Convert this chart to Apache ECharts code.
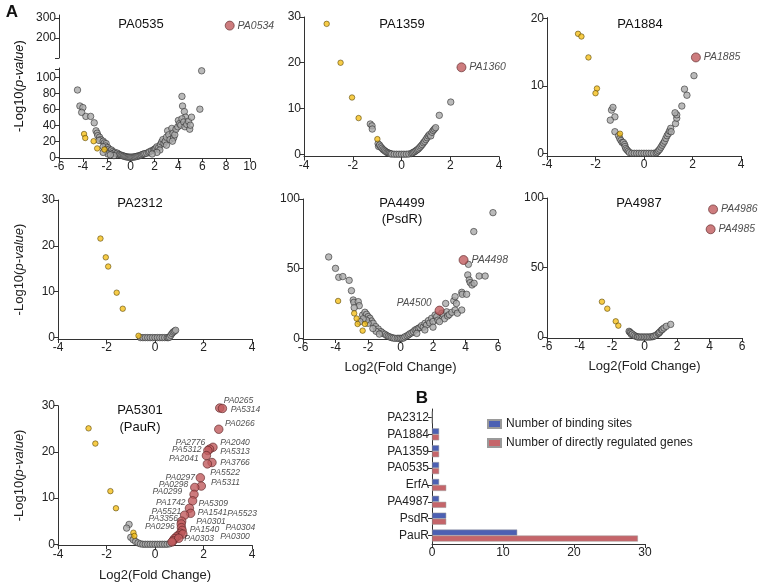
<!DOCTYPE html>
<html>
<head>
<meta charset="utf-8">
<script src="https://cdn.jsdelivr.net/npm/echarts@6/dist/echarts.min.js"></script>
<style>
html, body { margin: 0; padding: 0; background: #fff; }
#chart { width: 760px; height: 584px; }
</style>
</head>
<body>
<div id="chart"></div>
<script>
// ---- data ----
// PA0535
var pa0535Grey = [[-4.45,84],[-4.25,64],[-4.0,62],[-4.1,56],[-3.75,51],[-3.35,51],[-3.05,43],[-2.9,33],[-2.8,30],[-2.75,27],
  [-2.6,25],[-2.5,22],[-2.65,21],[-2.3,20],[-2.2,18],[-2.05,17],[-2.1,14],[-2.3,13],[-1.9,12],[-2.1,9],[-1.8,10],[-1.7,8],
  [-1.6,9],[-1.5,7],[-1.45,5],[-1.3,6],[-1.2,4.5],[-1.1,5],[-1.0,3.5],[-0.9,3],[-0.8,2.5],[-0.7,2],[-0.6,1.5],[-0.5,1],
  [-0.4,0.6],[-0.3,0.3],[-0.2,0.1],[-0.1,0],[0,0],[0.1,0],[0.2,0.1],[0.3,0.3],[0.4,0.6],[0.5,1],[0.6,1.3],[0.7,1.8],
  [0.8,2.2],[0.9,2.8],[1.0,3.5],[1.1,4],[1.2,4.5],[1.35,5],[1.5,6],[1.6,7],[1.75,8],[1.9,9],[2.0,10],[2.1,11],[2.2,13],
  [2.35,12],[2.5,16],[2.6,19],[2.7,22],[2.45,9],[2.8,17],[2.9,20],[3.0,25],[3.1,33],[3.2,28],[3.3,22],[3.45,36],[3.55,30],
  [3.6,24],[3.7,28],[3.8,35],[3.95,38],[3.5,20],[4.0,46],[4.1,42],[4.2,40],[4.3,76],[4.35,64],[4.5,57],[4.6,50],[4.3,48],
  [4.45,44],[4.55,38],[4.7,41],[4.85,45],[4.95,35],[5.1,50],[5.0,40],[5.8,60],[5.95,108],[3.0,15],[2.2,6],[1.8,4],
  [-1.4,2],[-1.9,4],[-2.3,6],[-1.7,3]];
var pa0535Yellow = [[-3.9,29],[-3.8,24],[-3.1,20],[-2.8,11],[-2.2,9.6]];
var pa0535Red = [[8.3,262]];
var pa0535RedNames = ['PA0534'];

// PA1359
var pa1359Grey = [[-1.28,6.6],[-1.21,6.2],[-1.2,5.5],[-0.96,2.3],[-0.94,1.7],[-0.9,2.0],[-0.85,1.6],[-0.8,1.3],[-0.75,1.0],
  [-0.7,0.8],[-0.65,0.6],[-0.6,0.4],[-0.55,0.3],[-0.5,0.2],[-0.45,0.1],[-0.4,0.05],[-0.3,0],[-0.2,0],[-0.1,0],[0,0],[0.1,0],
  [0.2,0],[0.3,0.05],[0.4,0.15],[0.45,0.3],[0.5,0.45],[0.55,0.6],[0.6,0.8],[0.65,1.0],[0.7,1.2],[0.75,1.5],[0.8,1.8],
  [0.85,2.1],[0.9,2.5],[0.95,2.8],[1.0,3.2],[1.05,3.6],[1.1,4.0],[1.15,4.3],[1.2,4.0],[1.25,4.8],[1.3,5.2],[1.35,5.5],
  [1.4,5.8],[1.55,8.5],[2.02,11.4]];
var pa1359Yellow = [[-3.07,28.5],[-2.5,20],[-2.03,12.4],[-1.76,7.9],[-0.99,3.3]];
var pa1359Red = [[2.46,19]];
var pa1359RedNames = ['PA1360'];

// PA1884
var pa1884Grey = [[-1.34,6.4],[-1.28,6.8],[-1.2,5.4],[-1.39,4.9],[-1.2,3.2],[-1.05,2.6],[-1.0,2.2],[-0.95,1.9],[-0.9,1.6],
  [-0.85,1.6],[-0.8,1.3],[-0.78,1.0],[-0.75,0.7],[-0.7,0.5],[-0.65,0.3],[-0.6,0.1],[-0.5,0],[-0.4,0],[-0.3,0],[-0.2,0],
  [-0.1,0],[0,0],[0.1,0],[0.2,0],[0.3,0],[0.4,0],[0.5,0.05],[0.55,0.2],[0.6,0.4],[0.65,0.6],[0.7,0.9],[0.75,1.2],[0.8,1.5],
  [0.85,1.8],[0.9,2.2],[0.95,2.6],[1.0,2.9],[1.05,3.3],[1.1,3.7],[1.12,3.2],[1.3,4.4],[1.35,5.2],[1.35,5.7],[1.28,6.0],
  [1.56,7.0],[1.77,8.6],[1.67,9.5],[2.06,11.5]];
var pa1884Yellow = [[-2.72,17.7],[-2.58,17.3],[-2.29,14.2],[-1.94,9.6],[-2.0,8.9],[-0.99,2.9]];
var pa1884Red = [[2.14,14.2]];
var pa1884RedNames = ['PA1885'];

// PA2312
var pa2312Grey = [[-0.6,0],[-0.5,0],[-0.4,0],[-0.3,0],[-0.2,0],[-0.1,0],[0,0],[0.1,0],[0.2,0],[0.3,0],[0.4,0],[0.5,0],
  [0.55,0],[0.6,0.1],[0.65,0.5],[0.7,0.9],[0.75,1.2],[0.8,1.4],[0.85,1.6]];
var pa2312Yellow = [[-2.25,21.6],[-2.03,17.5],[-1.93,15.5],[-1.58,9.8],[-1.33,6.3],[-0.68,0.4]];

// PA4499 (PsdR)
var pa4499Grey = [[-4.42,58.4],[-4.0,50.2],[-3.8,43.8],[-3.55,44.3],[-3.16,41.6],[-3.02,34.2],[-2.91,27.5],[-2.87,25.8],
  [-2.6,26.3],[-2.54,23.4],[-2.85,22],[-2.33,16.7],[-2.19,18.7],[-2.09,17.2],[-1.99,15.6],[-1.88,14.4],[-1.78,12.4],
  [-1.68,10.8],[-1.99,10.8],[-2.1,13],[-1.53,8.4],[-1.37,6.7],[-1.2,4.8],[-1.1,3.8],[-0.96,2.9],[-0.85,2.0],[-0.75,1.4],
  [-0.65,0.9],[-0.55,0.5],[-0.45,0.2],[-0.34,0],[-0.2,0],[-0.1,0],[0,0],[0.1,0],[0.2,0.3],[0.28,1.2],[0.4,1.8],[0.5,2.5],
  [0.58,3.3],[0.7,4.0],[0.8,4.8],[0.9,6],[1.0,6.5],[1.1,7.2],[1.2,7.8],[1.3,9.1],[1.4,8],[1.51,10.8],[1.6,9.5],[1.72,12.7],
  [1.8,11],[1.92,14.4],[2.0,12],[2.13,16.7],[2.23,15.6],[2.3,13],[2.54,18],[2.64,16.7],[2.7,14],[2.84,19],[2.9,16],[3.0,17],
  [3.16,18.7],[3.36,20.3],[3.5,18],[3.77,20.3],[2.78,25],[3.28,27],[3.44,25],[3.36,29.9],[3.77,33],[3.8,31.6],[4.07,31.6],
  [4.14,45.5],[4.23,41.9],[4.29,40],[4.4,38.3],[4.53,39.5],[4.84,44.7],[5.21,44.7],[4.18,53.1],[4.51,76.6],[5.69,90.2],
  [-1.5,5],[-1.7,7],[-1.3,3],[1.0,3.5],[1.5,6],[2.0,8],[2.4,12],[-2.3,14],[-2.5,12]];
var pa4499Yellow = [[-3.84,26.8],[-2.85,17.9],[-2.64,10.3],[-2.19,10.3],[-2.33,5.5],[-2.7,14.2]];
var pa4499Red = [[3.88,56.2],[2.4,19.9]];
var pa4499RedNames = ['PA4498','PA4500'];

// PA4987
var pa4987Grey = [[-0.95,4.1],[-0.9,3.5],[-0.85,2.9],[-0.8,1.8],[-0.75,2.2],[-0.65,1.3],[-0.55,0.6],[-0.45,0.2],[-0.4,0],
  [-0.3,0],[-0.2,0],[-0.1,0],[0,0],[0.1,0],[0.2,0],[0.3,0],[0.4,0.1],[0.5,0.3],[0.55,0.5],[0.65,0.9],[0.75,1.6],[0.85,2.6],
  [0.9,3.0],[0.95,3.8],[1.05,5.0],[1.1,5.5],[1.2,6.5],[1.34,7.7],[1.61,9.1]];
var pa4987Yellow = [[-2.62,25.4],[-2.29,20.4],[-1.77,11.3],[-1.61,8.2]];
var pa4987Red = [[4.22,91.8],[4.07,77.5]];
var pa4987RedNames = ['PA4986','PA4985'];

// PA5301 (PauR)
var pa5301Grey = [[-1.07,4.3],[-1.17,3.5],[-1.0,1.5],[-0.9,1.0],[-0.8,0.6],[-0.7,0.3],[-0.6,0.1],[-0.5,0],[-0.4,0],[-0.3,0],
  [-0.2,0],[-0.1,0],[0,0],[0.1,0],[0.2,0],[0.3,0],[0.4,0],[0.5,0],[0.6,0.1],[0.7,0.4],[0.75,0.8],[0.85,1.2],[0.95,1.6],[1.05,2.0]];
var pa5301Yellow = [[-2.74,25.1],[-2.46,21.8],[-1.84,11.5],[-1.61,7.8],[-0.89,2.5],[-0.85,1.8]];
var pa5301Red = [[2.67,29.5],[2.78,29.4],[2.63,24.9],[2.39,21.0],[2.25,20.6],[2.18,20.3],[2.12,19.2],[2.35,17.7],[2.16,17.4],
  [1.87,14.4],[1.91,12.6],[1.64,12.3],[1.61,10.8],[1.55,9.4],[1.42,7.8],[1.47,6.7],[1.22,6.3],[1.1,5.0],[1.08,4.4],
  [1.09,3.6],[1.12,3.0],[1.05,2.4],[0.95,1.9],[0.88,1.6],[0.8,1.2],[0.75,0.8],[1.15,2.2],[0.98,1.3],[0.7,0.5]];
// gene labels and where each one sits, in data units
var pa5301Labels = [['PA0265',2.83,31.2],['PA5314',3.12,29.1],['PA0266',2.89,26.2],['PA2776',0.85,22.1],['PA2040',2.69,22.0],
  ['PA5312',0.7,20.4],['PA5313',2.69,20.0],['PA2041',0.58,18.5],['PA3766',2.69,17.7],['PA5522',2.28,15.5],['PA0297',0.43,14.4],
  ['PA0298',0.15,13.0],['PA5311',2.31,13.3],['PA0299',-0.1,11.4],['PA1742',0.04,9.0],['PA5309',1.79,8.9],['PA5521',-0.14,7.0],
  ['PA1541',1.76,6.8],['PA5523',2.98,6.6],['PA3356',-0.27,5.6],['PA0301',1.7,5.0],['PA0296',-0.41,3.8],['PA1540',1.43,3.2],
  ['PA0304',2.91,3.6],['PA0300',2.69,1.7],['PA0303',1.21,1.3]];

// panel B
var barCategories = ['PauR', 'PsdR', 'PA4987', 'ErfA', 'PA0535', 'PA1359', 'PA1884', 'PA2312'];
var bindingSites = [12, 2, 1, 1, 1, 1, 1, 0];
var regulatedGenes = [29, 2, 2, 2, 1, 1, 1, 0];

// ---- chart ----
var chart = echarts.init(document.getElementById('chart'));
var FONT = 'Liberation Sans, Arial, Helvetica, sans-serif';
var AXIS = '#333';

// grid boxes in px: left, top, width, height
var boxes = [
  [59, 68, 191, 90],        // 0 PA0535 lower part
  [59, 15, 191, 43],        // 1 PA0535 upper part
  [304, 17, 195, 139.5],    // 2 PA1359
  [547, 17.6, 194, 138.4],  // 3 PA1884
  [58, 200, 194, 139],      // 4 PA2312
  [303, 199, 195, 140],     // 5 PA4499
  [547, 198, 195, 140],     // 6 PA4987
  [58, 405.7, 194, 139.5],  // 7 PA5301
  [432, 409, 213, 135]      // 8 bars
];
var grids = boxes.map(function (b) {
  return {left: b[0], top: b[1], width: b[2], height: b[3], containLabel: false};
});

var nameStyle = {color: '#222', fontSize: 13, fontFamily: FONT, rich: {i: {fontStyle: 'italic', fontSize: 13, fontFamily: FONT, color: '#222'}}};

function xAx(gi, min, max, opts) {
  opts = opts || {};
  return {
    type: 'value', gridIndex: gi, min: min, max: max, interval: 2, show: opts.show !== false,
    name: opts.name || '', nameLocation: 'middle', nameGap: opts.nameGap || 22, nameTextStyle: nameStyle,
    axisLine: {show: true, onZero: false, lineStyle: {color: AXIS, width: 1}},
    axisTick: {show: true, length: 4, lineStyle: {color: AXIS}},
    axisLabel: {color: '#222', fontSize: 12, margin: 3, fontFamily: FONT},
    splitLine: {show: false}
  };
}
function yAx(gi, min, max, ticks, labels, opts) {
  opts = opts || {};
  return {
    type: 'value', gridIndex: gi, min: min, max: max,
    name: opts.name || '', nameLocation: 'middle', nameGap: opts.nameGap || 30, nameRotate: 90, nameTextStyle: nameStyle,
    axisLine: {show: true, onZero: false, lineStyle: {color: AXIS, width: 1}},
    axisTick: {show: true, length: 4, customValues: ticks, lineStyle: {color: AXIS}},
    axisLabel: {customValues: labels || ticks, color: '#222', fontSize: 12, margin: 3, fontFamily: FONT},
    splitLine: {show: false}
  };
}

var xAxes = [
  xAx(0, -6, 10), xAx(1, -6, 10, {show: false}), xAx(2, -4, 4), xAx(3, -4, 4), xAx(4, -4, 4),
  xAx(5, -6, 6, {name: 'Log2(Fold Change)', nameGap: 22}), xAx(6, -6, 6, {name: 'Log2(Fold Change)', nameGap: 22}),
  xAx(7, -4, 4, {name: 'Log2(Fold Change)', nameGap: 24}),
  {
    type: 'value', gridIndex: 8, min: 0, max: 30, interval: 10,
    axisLine: {show: true, lineStyle: {color: AXIS}}, axisTick: {show: true, length: 4, lineStyle: {color: AXIS}},
    axisLabel: {color: '#222', fontSize: 12, margin: 3, fontFamily: FONT}, splitLine: {show: false}
  }
];
var yAxes = [
  yAx(0, -1, 111.5, [0, 20, 40, 60, 80, 100, 110], [0, 20, 40, 60, 80, 100]),
  yAx(1, 100, 315, [100, 200, 300], [200, 300]),
  yAx(2, -0.5, 30, [0, 10, 20, 30]),
  yAx(3, -0.4, 20.1, [0, 10, 20]),
  yAx(4, -0.3, 30, [0, 10, 20, 30], null, {name: '-Log10({i|p-value})', nameGap: 32}),
  yAx(5, -0.5, 100, [0, 50, 100]),
  yAx(6, -0.7, 100, [0, 50, 100]),
  yAx(7, -0.2, 30, [0, 10, 20, 30], null, {name: '-Log10({i|p-value})', nameGap: 32}),
  {
    type: 'category', gridIndex: 8, data: barCategories,
    axisLine: {show: true, lineStyle: {color: AXIS}}, axisTick: {show: true, length: 4, alignWithLabel: true, lineStyle: {color: AXIS}},
    axisLabel: {color: '#222', fontSize: 12, margin: 3, fontFamily: FONT}
  }
];

var greyStyle = {color: '#a9a9a9', borderColor: '#222', borderWidth: 0.7};
var yellowStyle = {color: '#f5bf1a', borderColor: '#4d3b00', borderWidth: 0.7};
var redStyle = {color: '#c15b5e', borderColor: '#5a2224', borderWidth: 0.8};

function dots(gi, data, style, size, z) {
  return {type: 'scatter', xAxisIndex: gi, yAxisIndex: gi, data: data, symbolSize: size, itemStyle: style, z: z, silent: true, clip: false};
}
function reds(gi, data, names, size, labelFix) {
  labelFix = labelFix || {};
  return {
    type: 'scatter', xAxisIndex: gi, yAxisIndex: gi, symbolSize: size, itemStyle: redStyle, z: 5, silent: true, clip: false,
    data: data.map(function (d, i) {
      var item = {value: d, name: names[i]};
      if (labelFix[names[i]]) item.label = labelFix[names[i]];
      return item;
    }),
    label: {show: true, formatter: '{b}', position: 'right', distance: 3, fontStyle: 'italic', fontSize: 10.5, color: '#222', fontFamily: FONT}
  };
}

var series = [
  dots(0, pa0535Grey, greyStyle, 6.5, 2), dots(0, pa0535Yellow, yellowStyle, 5.5, 3), reds(1, pa0535Red, pa0535RedNames, 9),
  dots(2, pa1359Grey, greyStyle, 6.5, 2), dots(2, pa1359Yellow, yellowStyle, 5.5, 3), reds(2, pa1359Red, pa1359RedNames, 9),
  dots(3, pa1884Grey, greyStyle, 6.5, 2), dots(3, pa1884Yellow, yellowStyle, 5.5, 3), reds(3, pa1884Red, pa1884RedNames, 9),
  dots(4, pa2312Grey, greyStyle, 6.5, 2), dots(4, pa2312Yellow, yellowStyle, 5.5, 3),
  dots(5, pa4499Grey, greyStyle, 6.5, 2), dots(5, pa4499Yellow, yellowStyle, 5.5, 3),
  reds(5, pa4499Red, pa4499RedNames, 9, {PA4500: {position: 'left', offset: [0, -7], fontSize: 10}}),
  dots(6, pa4987Grey, greyStyle, 6.5, 2), dots(6, pa4987Yellow, yellowStyle, 5.5, 3), reds(6, pa4987Red, pa4987RedNames, 9),
  dots(7, pa5301Grey, greyStyle, 6.5, 2), dots(7, pa5301Yellow, yellowStyle, 5.5, 3),
  {
    type: 'scatter', xAxisIndex: 7, yAxisIndex: 7, data: pa5301Red, symbolSize: 8.5, itemStyle: redStyle, z: 5, silent: true, clip: false
  },
  {
    type: 'scatter', xAxisIndex: 7, yAxisIndex: 7, symbolSize: 0, silent: true, z: 6, clip: false,
    data: pa5301Labels.map(function (l) { return {value: [l[1], l[2]], name: l[0]}; }),
    label: {show: true, formatter: '{b}', position: 'right', distance: 0, fontStyle: 'italic', fontSize: 8.5, color: '#222', fontFamily: FONT}
  },
  {
    name: 'Number of binding sites', type: 'bar', xAxisIndex: 8, yAxisIndex: 8, data: bindingSites,
    barWidth: 6, barGap: '0%', itemStyle: {color: '#4c60b3', borderColor: '#9a9a9a', borderWidth: 0.5}, silent: true
  },
  {
    name: 'Number of directly regulated genes', type: 'bar', xAxisIndex: 8, yAxisIndex: 8, data: regulatedGenes,
    barWidth: 6, barGap: '0%', itemStyle: {color: '#c5656a', borderColor: '#9a9a9a', borderWidth: 0.5}, silent: true
  }
];

function label(text, x, y, size, extra) {
  var st = {text: text, fill: '#111', fontSize: size, fontFamily: FONT, align: 'center', verticalAlign: 'middle'};
  for (var k in (extra || {})) st[k] = extra[k];
  return {type: 'text', x: x, y: y, style: st, silent: true};
}

var graphics = [
  label('A', 12, 12, 17, {fontWeight: 'bold'}),
  label('B', 422, 398, 17, {fontWeight: 'bold'}),
  label('PA0535', 141, 24, 13), label('PA1359', 402, 24, 13), label('PA1884', 640, 24, 13),
  label('PA2312', 140, 203, 13), label('PA4499', 402, 203, 13), label('(PsdR)', 402, 219, 13),
  label('PA4987', 639, 203, 13), label('PA5301', 140, 410, 13), label('(PauR)', 140, 427, 13)
];
var p1Name = label('-Log10({i|p-value})', 19, 86, 13, {rich: {i: {fontStyle: 'italic', fontSize: 13, fontFamily: FONT, fill: '#111'}}});
p1Name.rotation = Math.PI / 2;
graphics.push(p1Name);

chart.setOption({
  animation: false,
  backgroundColor: '#fff',
  textStyle: {fontFamily: FONT},
  grid: grids,
  xAxis: xAxes,
  yAxis: yAxes,
  series: series,
  legend: {
    data: ['Number of binding sites', 'Number of directly regulated genes'],
    orient: 'vertical', left: 482, top: 413, itemWidth: 13, itemHeight: 8, itemGap: 7,
    icon: 'rect', selectedMode: false,
    textStyle: {fontSize: 12, color: '#222', fontFamily: FONT}
  },
  graphic: graphics
});
</script>
</body>
</html>
